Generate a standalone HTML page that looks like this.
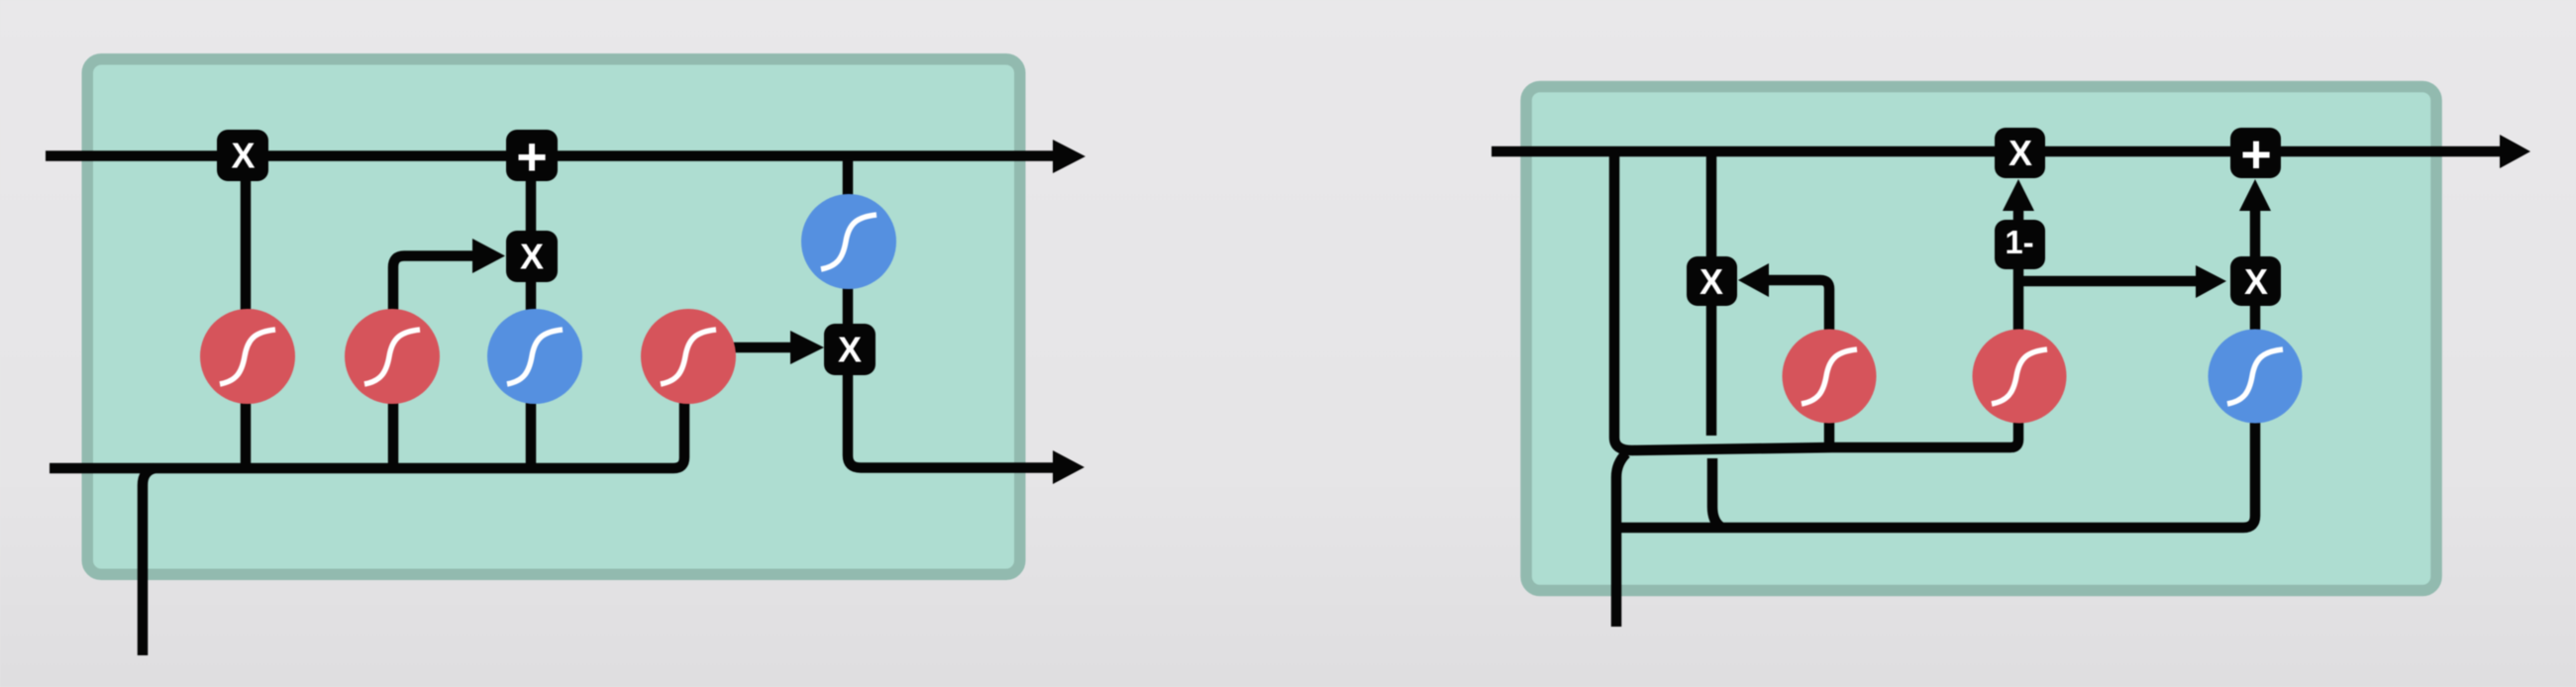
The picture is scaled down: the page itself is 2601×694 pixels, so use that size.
<!DOCTYPE html>
<html lang="en">
<head>
<meta charset="utf-8">
<title>LSTM and GRU cell diagrams</title>
<style>
html,body{margin:0;padding:0;width:2601px;height:694px;overflow:hidden;background:#e7e6e8}
svg{display:block;filter:blur(0.6px)}
.w{fill:none;stroke:#050505;stroke-width:10.500;stroke-linejoin:round}
.h{fill:#050505}
.b{fill:#050505}
.t{fill:#fff;font-family:"Liberation Sans",sans-serif;font-weight:700;text-anchor:middle}
.s{fill:none;stroke:#fff;stroke-width:5.500}
</style>
</head>
<body>
<svg width="2601" height="694" viewBox="0 0 2601 694" xmlns="http://www.w3.org/2000/svg">
<defs>
<linearGradient id="bg" x1="0" y1="0" x2="0" y2="1">
<stop offset="0" stop-color="#e9e8ea"/>
<stop offset="0.7" stop-color="#e6e5e7"/>
<stop offset="1" stop-color="#dfdee0"/>
</linearGradient>
</defs>
<rect width="2601" height="694" fill="url(#bg)"/>

<g>
<rect x="88.25" y="59.75" width="941.5" height="520.5" rx="14" fill="#aeddd1" stroke="#92baaf" stroke-width="11.5"/>
<path class="w" d="M46 157.5H1066"/>
<path class="h" d="M1063 141L1096 158L1063 175Z"/>
<path class="w" d="M248 160V473"/>
<path class="w" d="M397 473V270Q397 258.5 408 258.5H480"/>
<path class="h" d="M477 241L510 258.5L477 276Z"/>
<path class="w" d="M536 158V473"/>
<path class="w" d="M50 473H680Q691 473 691 462V400"/>
<path class="w" d="M144 662V490Q144 476 156 473"/>
<path class="w" d="M740 351H803"/>
<path class="h" d="M798 334L832 351L798 368Z"/>
<path class="w" d="M856 158V460Q856 472.5 869 472.5H1066"/>
<path class="h" d="M1063 455L1095 472L1063 489Z"/>

<g transform="translate(250 360)"><circle r="48" fill="#d6545b"/><path class="s" d="M-28 28C-12 25 -6 17 -3 0C0 -18 8 -25 28 -27"/></g>
<g transform="translate(396 360)"><circle r="48" fill="#d6545b"/><path class="s" d="M-28 28C-12 25 -6 17 -3 0C0 -18 8 -25 28 -27"/></g>
<g transform="translate(540 360)"><circle r="48" fill="#5590e0"/><path class="s" d="M-28 28C-12 25 -6 17 -3 0C0 -18 8 -25 28 -27"/></g>
<g transform="translate(695 360)"><circle r="48" fill="#d6545b"/><path class="s" d="M-28 28C-12 25 -6 17 -3 0C0 -18 8 -25 28 -27"/></g>
<g transform="translate(857 244)"><circle r="48" fill="#5590e0"/><path class="s" d="M-28 28C-12 25 -6 17 -3 0C0 -18 8 -25 28 -27"/></g>

<g><rect class="b" x="219" y="131" width="52" height="52" rx="11"/><text class="t" x="245.500" y="169.500" font-size="36">X</text></g>
<g><rect class="b" x="511" y="131" width="52" height="52" rx="11"/><text class="t" x="537" y="176.500" font-size="54">+</text></g>
<g><rect class="b" x="511" y="233" width="52" height="52" rx="11"/><text class="t" x="537" y="271.500" font-size="36">X</text></g>
<g><rect class="b" x="832" y="327" width="52" height="52" rx="11"/><text class="t" x="858" y="365.500" font-size="36">X</text></g>
</g>

<g>
<rect x="1541" y="87.500" width="919" height="509" rx="14" fill="#aeddd1" stroke="#92baaf" stroke-width="11.5"/>
<path class="w" d="M1506 153H2527"/>
<path class="h" d="M2524 136L2555 153L2524 170Z"/>
<path class="w" d="M1630 153V442Q1630 455 1648 455L1850 452H2030Q2038 452 2038 444V420"/>
<path class="w" d="M1728 153V440"/>
<path class="w" d="M1729 463V512Q1729 526 1737 532"/>
<path class="w" d="M1847 452V292Q1847 283 1838 283H1782"/>
<path class="h" d="M1786 266L1755 283L1786 300Z"/>
<path class="w" d="M1632 633V482Q1632 468 1642 458"/>
<path class="w" d="M1632 533H2265Q2277 533 2277 521V420"/>
<path class="w" d="M2038 380V208"/>
<path class="h" d="M2022 213L2038 181L2054 213Z"/>
<path class="w" d="M2038 284H2221"/>
<path class="h" d="M2217 268L2248 284L2217 301Z"/>
<path class="w" d="M2277 380V208"/>
<path class="h" d="M2261 213L2277 181L2293 213Z"/>

<g transform="translate(1847 380)"><circle r="47.5" fill="#d6545b"/><path class="s" d="M-28 28C-12 25 -6 17 -3 0C0 -18 8 -25 28 -27"/></g>
<g transform="translate(2039 380)"><circle r="47.5" fill="#d6545b"/><path class="s" d="M-28 28C-12 25 -6 17 -3 0C0 -18 8 -25 28 -27"/></g>
<g transform="translate(2277 380)"><circle r="47.5" fill="#5590e0"/><path class="s" d="M-28 28C-12 25 -6 17 -3 0C0 -18 8 -25 28 -27"/></g>

<g><rect class="b" x="2014" y="129" width="51" height="51" rx="11"/><text class="t" x="2040" y="167" font-size="36">X</text></g>
<g><rect class="b" x="2252" y="129" width="51" height="51" rx="11"/><text class="t" x="2278" y="174" font-size="54">+</text></g>
<g><rect class="b" x="2014" y="222" width="51" height="50" rx="11"/><text class="t" x="2039" y="256" font-size="33">1-</text></g>
<g><rect class="b" x="1703" y="259" width="51" height="50" rx="11"/><text class="t" x="1728" y="297" font-size="36">X</text></g>
<g><rect class="b" x="2252" y="259" width="51" height="50" rx="11"/><text class="t" x="2278" y="297" font-size="36">X</text></g>
</g>
</svg>
</body>
</html>
